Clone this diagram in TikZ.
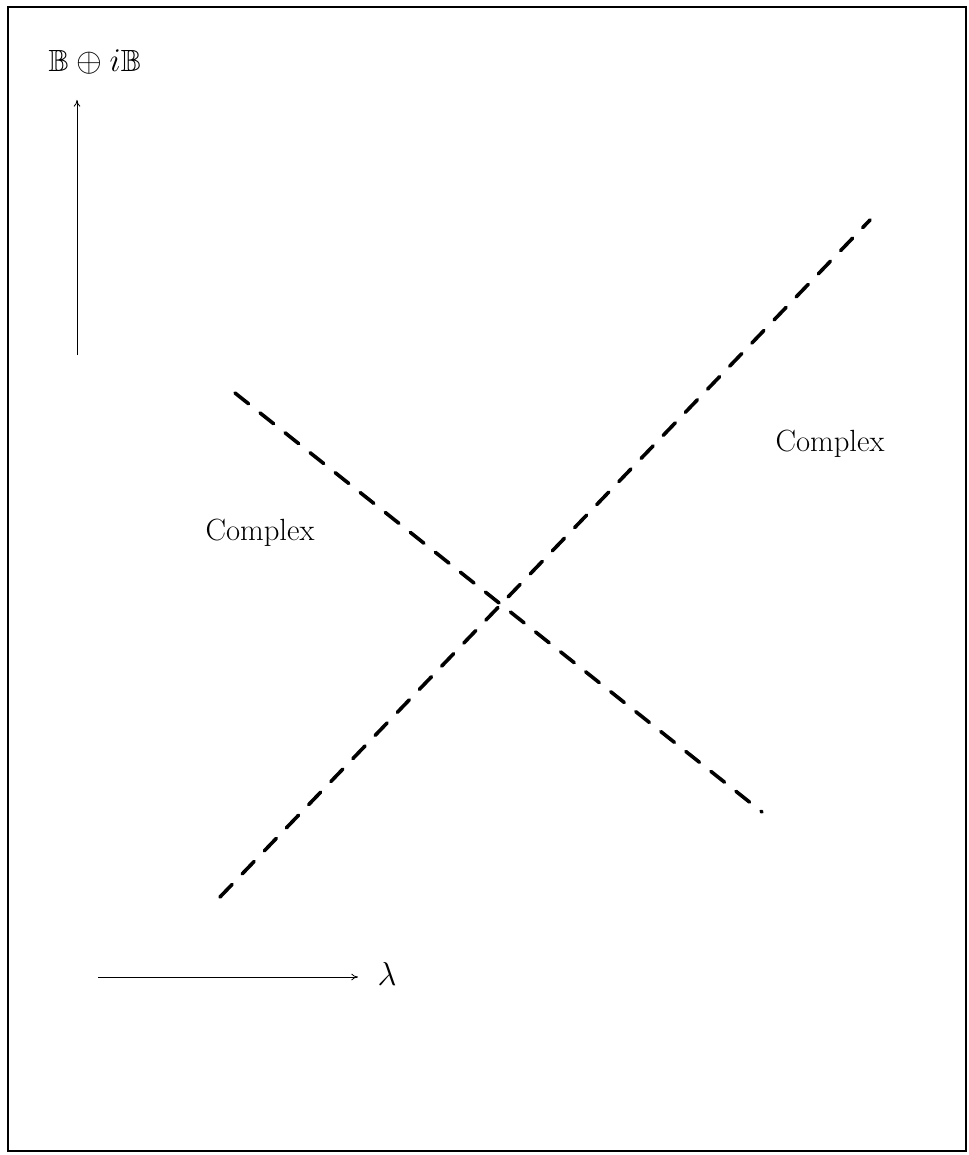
\documentclass[tikz,border=0pt]{standalone}
\usepackage{amssymb}
\usetikzlibrary{arrows.meta}
\begin{document}
\begin{tikzpicture}[x=0.75pt,y=-0.75pt,
  lab/.style={inner sep=0pt,font=\fontsize{23}{27}\selectfont},
  axis/.style={line width=0.6pt,-{To[length=5pt,width=5pt]}},
  dline/.style={line width=2.7pt,dash pattern=on 13pt off 11pt,line cap=round}]
\useasboundingbox (0,0) rectangle (968,1155);
\draw[line width=1.2pt] (8,7) rectangle (966,1151);
\node[lab] (ylab) at (95,62) {$\mathbb{B}\oplus i\mathbb{B}$};
\coordinate (ys) at (77,355);
\coordinate (ye) at (77,100);
\draw[axis] (ys) -- (ye);
\coordinate (xs) at (98,977);
\coordinate (xe) at (358,977);
\draw[axis] (xs) -- (xe);
\node[lab] (lam) at (387,974) {$\lambda$};
\coordinate (a1) at (220,897);
\coordinate (a2) at (870,220);
\coordinate (b1) at (235,393);
\coordinate (b2) at (762,812);
\draw[dline] (a1) -- (a2);
\draw[dline] (b1) -- (b2);
\node[lab] (c1) at (260,533) {Complex};
\node[lab] (c2) at (830,444) {Complex};
\end{tikzpicture}
\end{document}
